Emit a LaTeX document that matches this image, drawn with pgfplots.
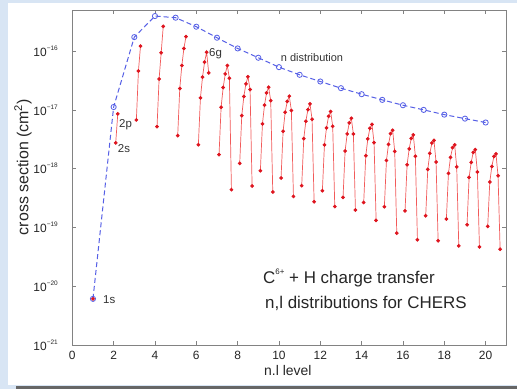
\documentclass[border=0pt]{standalone}
\usepackage{fontspec}
\setmainfont{Liberation Sans}
\usepackage{pgfplots}
\pgfplotsset{compat=1.18}
\definecolor{bgblue}{RGB}{216,229,244}
\definecolor{redline}{RGB}{242,90,90}
\definecolor{reddot}{RGB}{222,20,30}
\definecolor{bluel}{RGB}{85,95,230}
\definecolor{framegray}{RGB}{130,130,130}
\pgfplotsset{redser/.style={redline, line width=0.7bp, mark=*, mark size=1.5bp, mark options={fill=reddot, draw=reddot, solid}, forget plot}}
\newcommand{\lt}[1]{10\raisebox{0.95ex}{\fontsize{6.5}{7}\selectfont #1}}
\begin{document}
\begin{tikzpicture}[x=1bp,y=1bp]
\fill[bgblue] (0,0) rectangle (517,389);
\fill[white] (8,4) rectangle (517,386);
\fill[black!60] (16,0) rectangle (517,3.5);
\begin{axis}[at={(72.3bp,44bp)}, anchor=south west, scale only axis,
  width=434bp, height=335bp,
  xmin=0, xmax=21, ymode=log, log basis y=10, ymin=1e-21, ymax=5e-16,
  xtick={0,2,...,20},
  ytick={1e-21,1e-20,1e-19,1e-18,1e-17,1e-16},
  yticklabels={\lt{−21},\lt{−20},\lt{−19},\lt{−18},\lt{−17},\lt{−16}},
  /pgf/number format/assume math mode=true,
  tick label style={font=\fontsize{12}{13}\selectfont, text=black!85},
  yticklabel style={xshift=-11bp},
  xticklabel style={yshift=-3bp},
  axis line style={framegray, line width=0.6bp},
  tick style={framegray, line width=0.5bp},
  major tick length=4bp, minor tick length=2bp,
  clip=false]
\addplot[bluel, line width=1bp, dash pattern=on 5bp off 3bp, mark=o, mark size=2.6bp, mark options={solid, line width=0.8bp}] coordinates {
(1,6.1e-21)(2,1.12e-17)(3,1.73e-16)(4,3.95e-16)(5,3.70e-16)(6,2.60e-16)(7,1.69e-16)(8,1.11e-16)(9,7.71e-17)(10,5.33e-17)(11,3.95e-17)(12,3.04e-17)(13,2.34e-17)(14,1.85e-17)(15,1.48e-17)(16,1.20e-17)(17,1.0e-17)(18,8.3e-18)(19,7.1e-18)(20,6.1e-18)};
\addplot[redser] coordinates {(1,6.1e-21)};
\addplot[redser] coordinates {(2.1,2.74e-18)(2.2,8.55e-18)};
\addplot[redser] coordinates {(3.1,6.76e-18)(3.2,4.59e-17)(3.3,1.22e-16)};
\addplot[redser] coordinates {(4.1,5.2e-18)(4.2,3.35e-17)(4.3,9.37e-17)(4.4,2.63e-16)};
\addplot[redser] coordinates {(5.1,3.65e-18)(5.2,2.31e-17)(5.3,5.69e-17)(5.4,1.11e-16)(5.5,1.76e-16)};
\addplot[redser] coordinates {(6.1,2.56e-18)(6.2,1.60e-17)(6.3,3.60e-17)(6.4,6.49e-17)(6.5,9.59e-17)(6.6,4.25e-17)};
\addplot[redser] coordinates {(7.1,1.73e-18)(7.2,1.11e-17)(7.3,2.40e-17)(7.4,4.08e-17)(7.5,5.69e-17)(7.6,3.46e-17)(7.7,4.39e-19)};
\addplot[redser] coordinates {(8.1,1.23e-18)(8.2,8.0e-18)(8.3,1.69e-17)(8.4,2.77e-17)(8.5,3.66e-17)(8.6,2.22e-17)(8.7,5.07e-19)};
\addplot[redser] coordinates {(9.1,9.25e-19)(9.2,5.78e-18)(9.3,1.20e-17)(9.4,1.95e-17)(9.5,2.43e-17)(9.6,1.44e-17)(9.7,4.01e-19)};
\addplot[redser] coordinates {(10.1,6.93e-19)(10.2,4.33e-18)(10.3,9.1e-18)(10.4,1.39e-17)(10.5,1.71e-17)(10.6,9.73e-18)(10.7,3.37e-19)};
\addplot[redser] coordinates {(11.1,5.13e-19)(11.2,3.24e-18)(11.3,6.4e-18)(11.4,1.01e-17)(11.5,1.27e-17)(11.6,6.92e-18)(11.7,2.73e-19)};
\addplot[redser] coordinates {(12.1,4.22e-19)(12.2,2.54e-18)(12.3,4.94e-18)(12.4,7.78e-18)(12.5,9.35e-18)(12.6,5.26e-18)(12.7,2.27e-19)};
\addplot[redser] coordinates {(13.1,3.24e-19)(13.2,2.0e-18)(13.3,3.9e-18)(13.4,6.01e-18)(13.5,7.2e-18)(13.6,3.9e-18)(13.7,1.98e-19)};
\addplot[redser] coordinates {(14.1,2.66e-19)(14.2,1.66e-18)(14.3,3.21e-18)(14.4,4.86e-18)(14.5,5.69e-18)(14.6,2.77e-18)(14.7,1.32e-19)};
\addplot[redser] coordinates {(15.1,2.25e-19)(15.2,1.38e-18)(15.3,2.59e-18)(15.4,3.94e-18)(15.5,4.5e-18)(15.6,1.97e-18)(15.7,8.0e-20)};
\addplot[redser] coordinates {(16.1,1.92e-19)(16.2,1.17e-18)(16.3,2.17e-18)(16.4,3.28e-18)(16.5,3.75e-18)(16.6,1.62e-18)(16.7,6.17e-20)};
\addplot[redser] coordinates {(17.1,1.58e-19)(17.2,9.73e-19)(17.3,1.82e-18)(17.4,2.74e-18)(17.5,3.03e-18)(17.6,1.30e-18)(17.7,5.93e-20)};
\addplot[redser] coordinates {(18.1,1.39e-19)(18.2,8.32e-19)(18.3,1.56e-18)(18.4,2.28e-18)(18.5,2.54e-18)(18.6,1.07e-18)(18.7,4.87e-20)};
\addplot[redser] coordinates {(19.1,1.11e-19)(19.2,7.11e-19)(19.3,1.28e-18)(19.4,1.90e-18)(19.5,2.11e-18)(19.6,8.8e-19)(19.7,4.68e-20)};
\addplot[redser] coordinates {(20.1,1.04e-19)(20.2,5.93e-19)(20.3,1.09e-18)(20.4,1.62e-18)(20.5,1.78e-18)(20.6,7.59e-19)(20.7,4.27e-20)};
\end{axis}
\node[rotate=90, font=\fontsize{16}{18}\selectfont, text=black!85] at (23,222) {cross section (cm\textsuperscript{2})};
\node[anchor=west, inner sep=0, font=\fontsize{14}{16}\selectfont, text=black!85] at (264,18) {n.l level};
\node[anchor=west, inner sep=0, font=\fontsize{11.5}{13}\selectfont, text=black!80] at (103,89) {1s};
\node[anchor=west, inner sep=0, font=\fontsize{11.5}{13}\selectfont, text=black!80] at (119,264) {2p};
\node[anchor=west, inner sep=0, font=\fontsize{11.5}{13}\selectfont, text=black!80] at (117.7,240.7) {2s};
\node[anchor=west, inner sep=0, font=\fontsize{11.5}{13}\selectfont, text=black!80] at (209,335.7) {6g};
\node[anchor=west, inner sep=0, font=\fontsize{11}{13}\selectfont, text=black!80] at (280.7,331.7) {n distribution};
\node[anchor=west, inner sep=0, font=\fontsize{17}{19}\selectfont, text=black!85] at (263,111) {C\raisebox{1.1ex}{\fontsize{8}{9}\selectfont 6+} + H charge transfer};
\node[anchor=west, inner sep=0, font=\fontsize{17}{19}\selectfont, text=black!85] at (265,85.7) {n,l distributions for CHERS};
\pgfresetboundingbox
\useasboundingbox (0,0) rectangle (517,389);
\end{tikzpicture}
\end{document}
